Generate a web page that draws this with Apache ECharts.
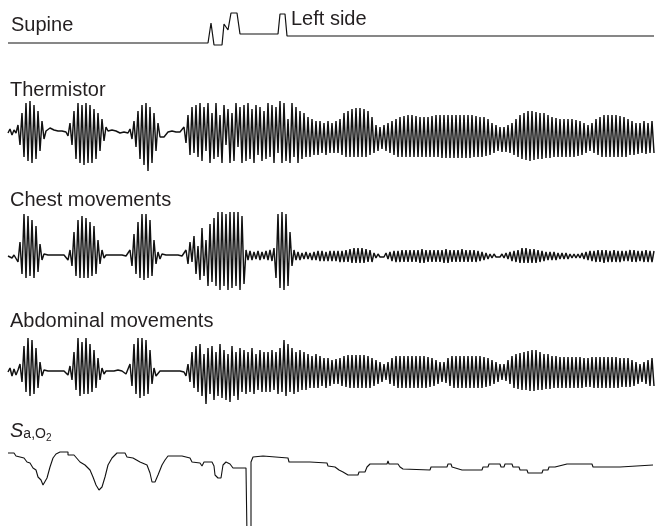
<!DOCTYPE html>
<html>
<head>
<meta charset="utf-8">
<script src="https://cdn.jsdelivr.net/npm/echarts@6/dist/echarts.min.js"></script>
<style>
html,body{margin:0;padding:0;background:#fff;}
#chart{width:655px;height:526px;}
</style>
</head>
<body>
<div id="chart"></div>
<script>
// ---- DATA (one sample every half-breath step; sample index = time) ----
var labels = ['Supine', 'Left side', 'Thermistor', 'Chest movements', 'Abdominal movements'];

// body position channel: time, level
var positionTime  = [0, 100, 101.5, 103, 107, 108, 109, 110, 111.5, 114.5, 116, 135, 136, 138.5, 139.5, 323];
var positionLevel = [0, 0, 20, -2, -2, 19, 19, 13, 30, 30, 9, 9, 29, 29, 7, 7];

var thermistor = [
0,4,-2,3,0,
8,-12,20,-24,30,-28,32,-30,28,-26,22,-18,12,-6,
2,3,5,4,3,3,2,2,2,2,1,
-3,10,-12,22,-26,30,-30,28,-32,30,-30,28,-30,24,-26,20,-18,14,-8,6,2,
2,3,3,2,1,0,0,1,1,0,
4,-6,12,-14,22,-26,28,-32,30,-38,26,-30,20,-18,10,-4,
-6,-4,-2,1,2,2,1,1,1,1,0,
6,-10,18,-22,26,-20,28,-24,30,
-28,26,-18,30,-30,20,-26,30,-24,18,
-30,28,-12,24,-30,20,-28,30,-14,26,
-30,28,-28,30,-26,24,-30,28,-22,26,
-28,22,-26,30,-24,28,-30,26,-20,32,
-30,30,-28,14,-30,30,-24,26,-30,22,
-26,20,-24,16,-24,14,-22,12,-22,12,-20,10,-22,12,-20,
10,-20,12,-20,14,-22,20,-24,22,-24,
24,-24,25,-24,25,-24,24,-24,22,-22,
16,-20,8,-18,6,-16,8,-18,10,-20,
12,-22,14,-24,16,-24,17,-24,18,-24,
18,-24,17,-24,16,-24,16,-24,16,-24,
17,-24,18,-24,18,-25,18,-25,18,-25,
18,-25,18,-25,18,-25,18,-25,18,-25,
18,-24,17,-24,16,-24,16,-23,14,-22,
10,-20,8,-18,6,-19,6,-19,8,-20,
10,-22,14,-24,18,-26,20,-27,22,-28,
22,-27,21,-26,20,-26,20,-25,18,-25,
16,-24,15,-24,14,-24,14,-24,14,-24,
14,-24,13,-23,12,-22,10,-20,8,-18,
10,-20,14,-22,16,-24,18,-24,18,-24,
18,-24,18,-24,17,-24,16,-24,14,-22,
12,-22,10,-21,10,-20,12,-21,10,-20,
12,-20
];

var chest = [
0,2,-2,1,
3,-6,14,-18,42,-22,40,-20,36,-22,30,-16,12,-4,
2,1,1,1,1,1,1,1,1,1,1,0,
-4,6,-10,24,-20,36,-22,40,-22,38,-22,34,-20,30,-18,16,-8,6,-2,
1,1,1,1,1,1,1,1,1,1,0,-2,
6,-10,22,-18,34,-22,42,-24,42,-22,36,-20,16,-8,4,
-3,2,3,1,1,1,1,1,1,1,1,0,0,
6,-8,14,-6,20,-18,10,-24,28,-20,16,-30,32,-26,38,-30,
44,-34,44,-30,42,-34,44,-32,44,-30,44,-34,40,-28,
6,-4,5,-4,4,-3,5,-4,4,-3,5,-4,6,-5,8,
-22,42,-32,44,-34,42,-30,24,-10,
6,-4,4,-4,3,-3,4,-3,3,-4,
4,-4,5,-5,5,-5,4,-5,5,-5,
5,-5,5,-6,5,-6,6,-6,7,-7,
8,-7,8,-7,8,-7,7,-6,6,-6,
3,-2,2,-1,1,-1,3,-3,4,-5,
5,-6,5,-6,6,-6,6,-6,6,-6,
6,-6,6,-7,7,-7,6,-6,6,-6,
6,-6,6,-6,6,-7,7,-7,6,-6,
6,-6,6,-6,7,-6,6,-6,6,-6,
6,-6,5,-5,4,-4,3,-3,2,-2,
2,-1,1,-1,2,-2,3,-3,4,-5,
5,-6,6,-7,8,-7,8,-7,7,-7,
7,-7,6,-6,5,-5,4,-4,4,-4,
4,-4,3,-3,3,-3,3,-3,2,-2,
2,-2,2,-2,3,-3,4,-4,5,-5,
5,-6,6,-6,6,-7,6,-6,5,-6,
6,-6,5,-6,5,-5,5,-5,6,-6,
6,-6,5,-5,5,-6,6,-6,5,-6,
5
];

var abdominal = [
0,4,-4,3,-3,2,
8,-10,26,-20,34,-24,32,-22,24,-16,10,-4,
2,1,1,1,1,1,1,1,1,1,1,0,
-3,6,-8,20,-18,34,-24,30,-22,34,-22,28,-20,22,-16,14,-8,4,-2,
1,1,1,1,1,1,2,2,1,0,-2,0,
8,-14,28,-22,34,-26,34,-24,32,-22,22,-12,4,
-4,-2,1,1,1,1,1,1,1,1,1,1,1,0,0,
-4,8,-10,20,-16,26,-20,28,-24,18,
-32,24,-22,26,-28,20,-24,28,-26,22,
-28,18,-30,26,-24,20,-28,24,-20,22,
-22,20,-20,24,-22,18,-18,22,-20,20,
-20,20,-20,22,-18,20,-22,24,-20,32,
-24,28,-20,24,-22,20,-20,22,-18,20,
-18,18,-16,16,-16,18,-16,16,-14,14,-16,14,-14,
12,-12,13,-12,14,-14,16,-15,17,-16,
17,-16,17,-16,17,-16,17,-16,16,-16,
14,-14,12,-12,10,-10,8,-8,10,-12,
14,-14,16,-16,16,-16,16,-16,16,-16,
16,-16,16,-16,16,-16,16,-16,15,-15,
14,-14,12,-12,10,-10,10,-11,14,-14,
16,-16,16,-16,16,-16,16,-16,16,-16,
16,-16,16,-16,16,-16,15,-15,14,-14,
12,-12,10,-10,8,-8,8,-9,12,-12,
16,-16,18,-17,19,-18,20,-18,21,-19,
22,-19,22,-18,20,-18,18,-17,18,-17,
16,-16,16,-16,15,-16,15,-16,15,-16,
15,-16,15,-16,15,-16,14,-15,14,-15,
15,-16,15,-16,15,-16,15,-16,15,-16,
15,-16,15,-16,14,-15,14,-15,14,-15,
12,-14,10,-12,8,-10,10,-12,12,-14,
14,-14
];

// arterial oxygen saturation (%), step trace
var sao2Time = [0,3,4,6,8,9.5,11,12.5,14,15,16.5,17.5,18.5,19.5,21,22.5,24,26,30,30,33,33.5,36,38.5,41,42.5,44,45.5,47,48.5,50,52,54.5,58.5,59.5,62.5,66,69.5,71,72,73.5,75,77,78.5,80,87,91,92,96,97,98,102,103,103.5,105,106.5,107.5,109,111,112.5,119,119.5,121.5,121.5,122.5,123.5,127.5,128.5,140,140.5,151,151.5,152,159.5,160,163.5,165.5,167.5,170,175,175.5,178.5,179.5,181,189.5,190,190.5,195,196,197.5,211,211.5,219.5,220,221.5,222,227,237,237.5,240,240.5,246,246.5,248,248.5,252,252.5,255.5,256,259.5,260,267,267.5,270,270.5,273.5,274,279.5,292,292.5,306,306.5,322.5];
var sao2Value = [96.75,96.75,96,95.75,95.5,94.5,94.25,93,92.5,90.75,90,88.75,88.75,90.5,93.25,95.5,96.5,97,97,96.25,96.25,95.75,94.5,93.75,92.5,90.75,88.75,87.5,88.25,90.75,93.75,95.5,96.75,96.75,95.75,95.5,94.5,93.75,91.75,89.5,89.5,91.25,93.75,95,96,96,95.5,94.5,94.25,93.5,94.5,94.5,93.5,91.25,90.5,90.5,93.75,94.5,94,93,93,76,76,94.5,95.75,96,96,95.5,95.5,94.5,94.5,95,94.5,94.25,93.5,93.25,92.5,92,91.25,91.25,92,92,93.25,94,94,94.75,94,94,93.25,92.75,92.5,93.25,93.25,94,94,93.25,92.5,92.5,93.25,93.25,94,94,93.25,93.25,94,94,93.25,93.25,92.5,92.5,91.75,91.75,92.5,92.5,93.25,93.25,93.75,94,94,93.25,93.25,93.75,93.75];

// ---- CHART ----
function pairs(arr){ return arr.map(function(v,i){ return [i, v]; }); }
function zip(a,b){ return a.map(function(v,i){ return [v, b[i]]; }); }

var ink = '#111111';
var grids = [
  {left: 8, width: 646, top: 3,   height: 50},
  {left: 8, width: 646, top: 93,  height: 80},
  {left: 8, width: 646, top: 211, height: 90},
  {left: 8, width: 646, top: 332, height: 80},
  {left: 8, width: 646, top: 440, height: 80}
];
var yRanges = [[-10,40],[-40,40],[-45,45],[-40,40],[80,100]];
var N = thermistor.length;

var xAxes = grids.map(function(g,i){
  return {type:'value', gridIndex:i, min:0, max:N-1, show:false};
});
var yAxes = grids.map(function(g,i){
  return {type:'value', gridIndex:i, min:yRanges[i][0], max:yRanges[i][1], show:false};
});

function lineSeries(idx, data, w){
  return {
    type:'line', xAxisIndex:idx, yAxisIndex:idx, data:data,
    showSymbol:false, symbol:'none', clip:false, animation:false,
    lineStyle:{color:ink, width:w||1.1}, silent:true
  };
}

var font = '20px "Liberation Sans", Arial, sans-serif';
var txt = '#231f20';

var chart = echarts.init(document.getElementById('chart'), null, {renderer:'canvas'});
chart.setOption({
  animation:false,
  backgroundColor:'#ffffff',
  grid:grids,
  xAxis:xAxes,
  yAxis:yAxes,
  series:[
    lineSeries(0, zip(positionTime, positionLevel), 1.2),
    lineSeries(1, pairs(thermistor), 1.45),
    lineSeries(2, pairs(chest), 1.45),
    lineSeries(3, pairs(abdominal), 1.45),
    lineSeries(4, zip(sao2Time, sao2Value), 1.1)
  ],
  graphic:[
    {type:'text', x:11, y:25, silent:true, style:{text:labels[0], font:font, fill:txt, verticalAlign:'middle'}},
    {type:'text', x:291, y:19, silent:true, style:{text:labels[1], font:font, fill:txt, verticalAlign:'middle'}},
    {type:'text', x:10, y:90, silent:true, style:{text:labels[2], font:font, fill:txt, verticalAlign:'middle'}},
    {type:'text', x:10, y:200, silent:true, style:{text:labels[3], font:font, fill:txt, verticalAlign:'middle'}},
    {type:'text', x:10, y:321, silent:true, style:{text:labels[4], font:font, fill:txt, verticalAlign:'middle'}},
    {type:'text', x:10, y:431, silent:true, style:{
      text:'{s|S}{a|a,O}{b|2}', verticalAlign:'middle',
      rich:{
        s:{font:'italic 20px "Liberation Sans", Arial, sans-serif', fill:txt, verticalAlign:'bottom'},
        a:{font:'14px "Liberation Sans", Arial, sans-serif', fill:txt, verticalAlign:'bottom'},
        b:{font:'10px "Liberation Sans", Arial, sans-serif', fill:txt, verticalAlign:'bottom', padding:[0,0,-2,0]}
      }
    }}
  ]
});
</script>
</body>
</html>
